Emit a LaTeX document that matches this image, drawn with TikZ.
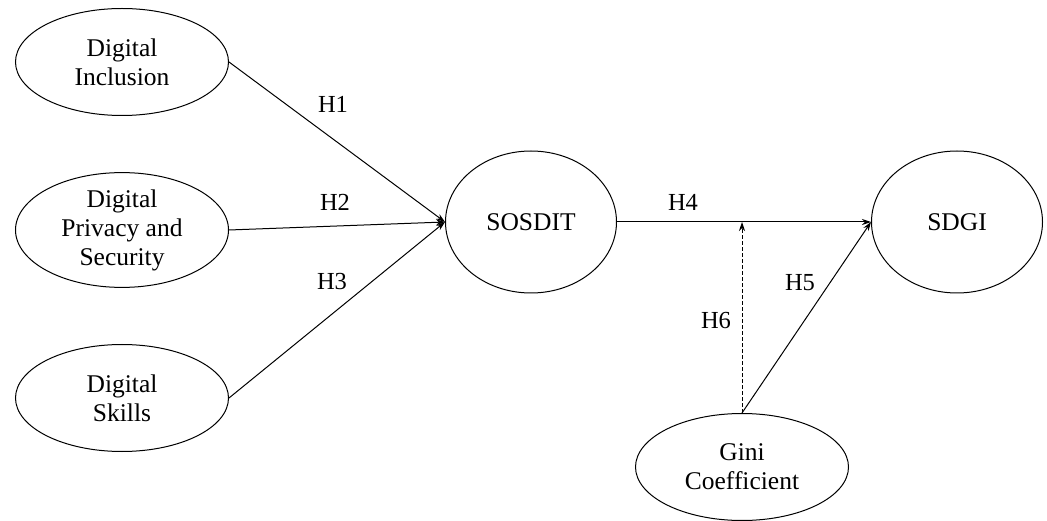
\documentclass[tikz,border=0pt]{standalone}
\usepackage{fontspec}
\setmainfont{Liberation Serif}
\usetikzlibrary{shapes.geometric,arrows.meta}
\begin{document}
\begin{tikzpicture}[x=1pt,y=-1pt,
  latent/.style={ellipse,draw,line width=1pt,inner sep=0pt,align=center,
    font=\fontsize{25.5}{29}\selectfont},
  wide/.style={latent,minimum width=213pt,minimum height=107pt},
  round/.style={latent,minimum width=171pt,minimum height=142pt},
  path/.style={line width=1pt,-{Stealth[length=9pt,width=6pt]}},
  hlab/.style={font=\fontsize{24.5}{28}\selectfont,inner sep=0pt}]
\useasboundingbox (0,0) rectangle (1047,521);
\node[wide] (di) at (122,62) {Digital\\Inclusion};
\node[wide] (dp) at (122,230) {Digital\\Privacy and\\Security};
\node[wide] (ds) at (122,398) {Digital\\Skills};
\node[round] (sos) at (531,222) {SOSDIT};
\node[round] (sdgi) at (957,222) {SDGI};
\node[wide] (gini) at (742,467) {Gini\\Coefficient};
\coordinate (mod) at (742,222);
\draw[path] (di.east) -- (sos.west);
\draw[path] (dp.east) -- (sos.west);
\draw[path] (ds.east) -- (sos.west);
\draw[path] (sos.east) -- (sdgi.west);
\draw[path] (gini.north) -- (sdgi.west);
\draw[path,dash pattern=on 4pt off 2pt] (gini.north) -- (mod);
\node[hlab] (h1) at (333,104) {H1};
\node[hlab] (h2) at (335,202) {H2};
\node[hlab] (h3) at (332,282) {H3};
\node[hlab] (h4) at (683,202) {H4};
\node[hlab] (h5) at (800,283) {H5};
\node[hlab] (h6) at (716,321) {H6};
\end{tikzpicture}
\end{document}
